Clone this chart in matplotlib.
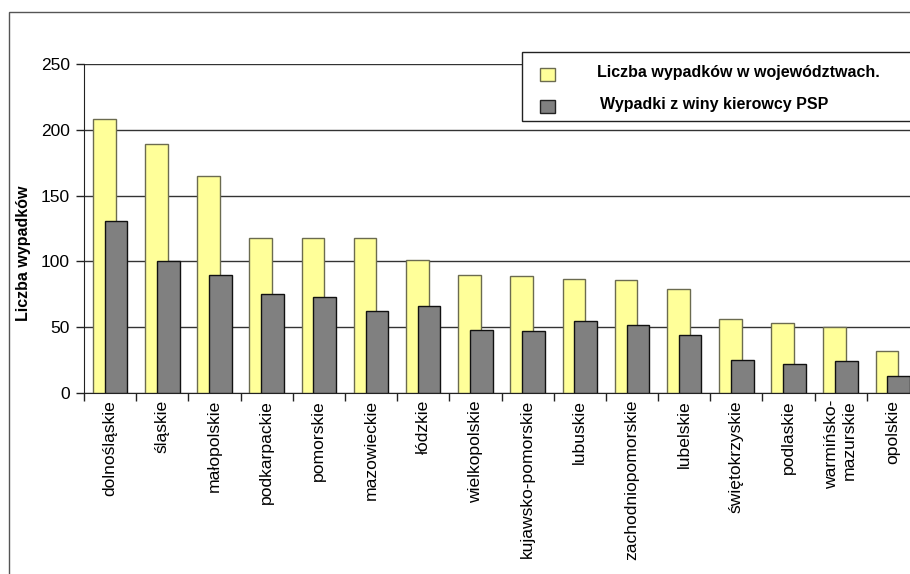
import matplotlib
matplotlib.use("Agg")
import matplotlib.pyplot as plt
import numpy as np
from matplotlib.patches import Rectangle

plt.rcParams['font.family'] = ['Liberation Sans', 'DejaVu Sans']

# Data: road accidents per voivodeship
categories = ["dolnośląskie", "śląskie", "małopolskie", "podkarpackie", "pomorskie",
              "mazowieckie", "łódzkie", "wielkopolskie", "kujawsko-pomorskie", "lubuskie",
              "zachodniopomorskie", "lubelskie", "świętokrzyskie", "podlaskie",
              "warmińsko-\nmazurskie", "opolskie"]
wypadki_ogolem = [208, 189, 165, 118, 118, 118, 101, 90, 89, 87, 86, 79, 56, 53, 50, 32]
wypadki_psp = [131, 100, 90, 75, 73, 62, 66, 48, 47, 55, 52, 44, 25, 22, 24, 13]
series_labels = ["Liczba wypadków w województwach.", "Wypadki z winy kierowcy PSP"]
y_ticks = [0, 50, 100, 150, 200, 250]
y_label = "Liczba wypadków"

W, H = 910, 574
fig = plt.figure(figsize=(W / 100, H / 100), dpi=100)
fig.patch.set_facecolor("white")

def fx(px):
    return px / W

def fy(py):
    return 1 - py / H

# axes placed in pixel terms; the right end runs past the canvas
ax_left, ax_right, ax_top, ax_bottom = 84, 919, 64, 393
ax = fig.add_axes([fx(ax_left), fy(ax_bottom), fx(ax_right - ax_left), (ax_bottom - ax_top) / H])

x = np.arange(len(categories))
bw = 0.435
ax.bar(x - 0.113, wypadki_ogolem, width=bw, color="#FFFF99", edgecolor="#6b6b50",
       linewidth=1.0, zorder=2)
ax.bar(x + 0.113, wypadki_psp, width=bw, color="#808080", edgecolor="#111111",
       linewidth=1.0, zorder=3)

ax.set_xlim(-0.5, len(categories) - 0.5)
ax.set_ylim(0, 250)
ax.set_yticks(y_ticks)
ax.set_yticklabels([str(v) for v in y_ticks], fontsize=12.5)
for v in y_ticks:
    ax.axhline(v, color="#333333", linewidth=1.0, zorder=1)

ax.set_xticks(x)
ax.set_xticklabels(categories, rotation=90, fontsize=12.6, ma="right", va="top")
ax.set_xticks(np.arange(len(categories) + 1) - 0.5, minor=True)
ax.tick_params(axis="x", which="major", length=0, pad=5)
ax.tick_params(axis="x", which="minor", length=6, width=1, color="#222222", direction="out")
ax.tick_params(axis="y", length=6, width=1, color="#222222", direction="out", pad=4)

for s in ["top", "right"]:
    ax.spines[s].set_visible(False)
ax.spines["left"].set_color("#222222")
ax.spines["bottom"].set_color("#222222")

fig.text(fx(24), fy(253), y_label, rotation=90, fontsize=11.5, fontweight="bold",
         ha="center", va="center")

# outer frame
fig.add_artist(Rectangle((fx(9), -0.02), 1.05, fy(12) + 0.02, transform=fig.transFigure,
                         fill=False, edgecolor="#555555", linewidth=1.0, zorder=5))

# legend box
fig.add_artist(Rectangle((fx(522), fy(121)), 1.0, (121 - 52) / H, transform=fig.transFigure,
                         facecolor="white", edgecolor="#222222", linewidth=1.0, zorder=6))
fig.add_artist(Rectangle((fx(540), fy(81)), fx(15), 13 / H, transform=fig.transFigure,
                         facecolor="#FFFF99", edgecolor="#6b6b50", linewidth=1.0, zorder=7))
fig.add_artist(Rectangle((fx(540), fy(113)), fx(15), 13 / H, transform=fig.transFigure,
                         facecolor="#808080", edgecolor="#222222", linewidth=1.0, zorder=7))
fig.text(fx(597), fy(72), series_labels[0], fontsize=11.5, fontweight="bold",
         ha="left", va="center", zorder=8)
fig.text(fx(600), fy(104), series_labels[1], fontsize=11.5, fontweight="bold",
         ha="left", va="center", zorder=8)

fig.savefig("out.png", dpi=100)
